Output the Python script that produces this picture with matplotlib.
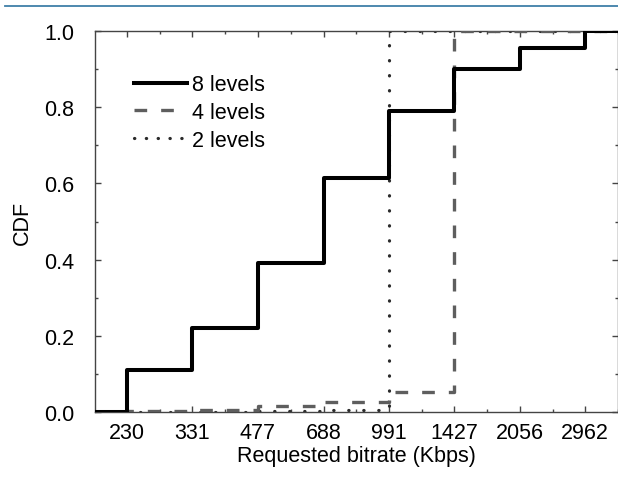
import matplotlib
matplotlib.use("Agg")
import matplotlib.pyplot as plt
from matplotlib.lines import Line2D
import numpy as np

plt.rcParams['font.family'] = ['Liberation Sans', 'DejaVu Sans']

bitrates = [230, 331, 477, 688, 991, 1427, 2056, 2962]
tick_labels = ["230", "331", "477", "688", "991", "1427", "2056", "2962"]
cdf_8 = [0.11, 0.22, 0.39, 0.615, 0.79, 0.90, 0.955, 1.0]
cdf_4 = [0.002, 0.004, 0.016, 0.025, 0.052, 1.0, 1.0, 1.0]
cdf_2 = [0.0, 0.0, 0.002, 0.005, 1.0, 1.0, 1.0, 1.0]

fig = plt.figure(figsize=(6.18, 4.81), dpi=100)
ax = fig.add_axes([95/618, 1-413/481, (618-95)/618, (413-32)/481])

r = (bitrates[-1] / bitrates[0]) ** (1/7)
xmin = bitrates[0] * r ** (-0.49)
xmax = bitrates[0] * r ** (7.47)

def steps(vals):
    xs = [xmin] + bitrates + [xmax]
    ys = [0.0] + vals + [vals[-1]]
    return xs, ys

x2, y2 = steps(cdf_2)
x4, y4 = steps(cdf_4)
x8, y8 = steps(cdf_8)

dot_style = (0, (0.1, 4.6))
dash_style = (0, (3.8, 4.2))
ax.step(x2, y2, where='post', color='#2a2a2a', lw=2.3, linestyle=dot_style,
        dash_capstyle='round', label='2 levels', zorder=2)
ax.step(x4, y4, where='post', color='#5e5e5e', lw=2.4, linestyle=dash_style,
        label='4 levels', zorder=3)
ax.step(x8, y8, where='post', color='black', lw=2.9, label='8 levels', zorder=4)

ax.set_xscale('log')
ax.set_xlim(xmin, xmax)
ax.set_ylim(0, 1.0)
ax.set_xticks(bitrates)
ax.set_xticklabels(tick_labels)
minor_x = [bitrates[i] * np.sqrt(r) for i in range(len(bitrates))]
ax.set_xticks(minor_x, minor=True)
ax.xaxis.set_minor_formatter(matplotlib.ticker.NullFormatter())
ax.set_yticks(np.arange(0, 1.01, 0.2))
ax.set_yticklabels([f"{v:.1f}" for v in np.arange(0, 1.01, 0.2)])
ax.set_yticks(np.arange(0.1, 1.0, 0.2), minor=True)

ax.tick_params(which='both', direction='in', top=True, right=True, labelsize=15.5,
               color='#444444')
ax.tick_params(which='major', length=4.5, width=1)
ax.tick_params(which='minor', length=2.5, width=1)
ax.tick_params(axis='x', pad=7)
ax.tick_params(axis='y', pad=15)
for s in ax.spines.values():
    s.set_linewidth(1.0)
    s.set_color('#444444')

ax.set_xlabel('Requested bitrate (Kbps)', fontsize=15.5, labelpad=2)
ax.set_ylabel('CDF', fontsize=15.5, labelpad=8)

handles = [
    Line2D([], [], color='black', lw=2.9),
    Line2D([], [], color='#5e5e5e', lw=2.4, linestyle=dash_style),
    Line2D([], [], color='#2a2a2a', lw=2.3, linestyle=(0, (0.1, 3.6)), dash_capstyle='round'),
]
leg = ax.legend(handles, ['8 levels', '4 levels', '2 levels'], loc='upper left',
                bbox_to_anchor=(0.075, 0.887), frameon=False, fontsize=15.5,
                handlelength=2.45, handletextpad=0.25, labelspacing=0.32,
                borderaxespad=0, borderpad=0)

fig.add_artist(Line2D([5/618, 1.0], [1-7/481, 1-7/481], color='#3f7fa8', lw=1.3,
                      transform=fig.transFigure))

fig.savefig('out.png', dpi=100)
